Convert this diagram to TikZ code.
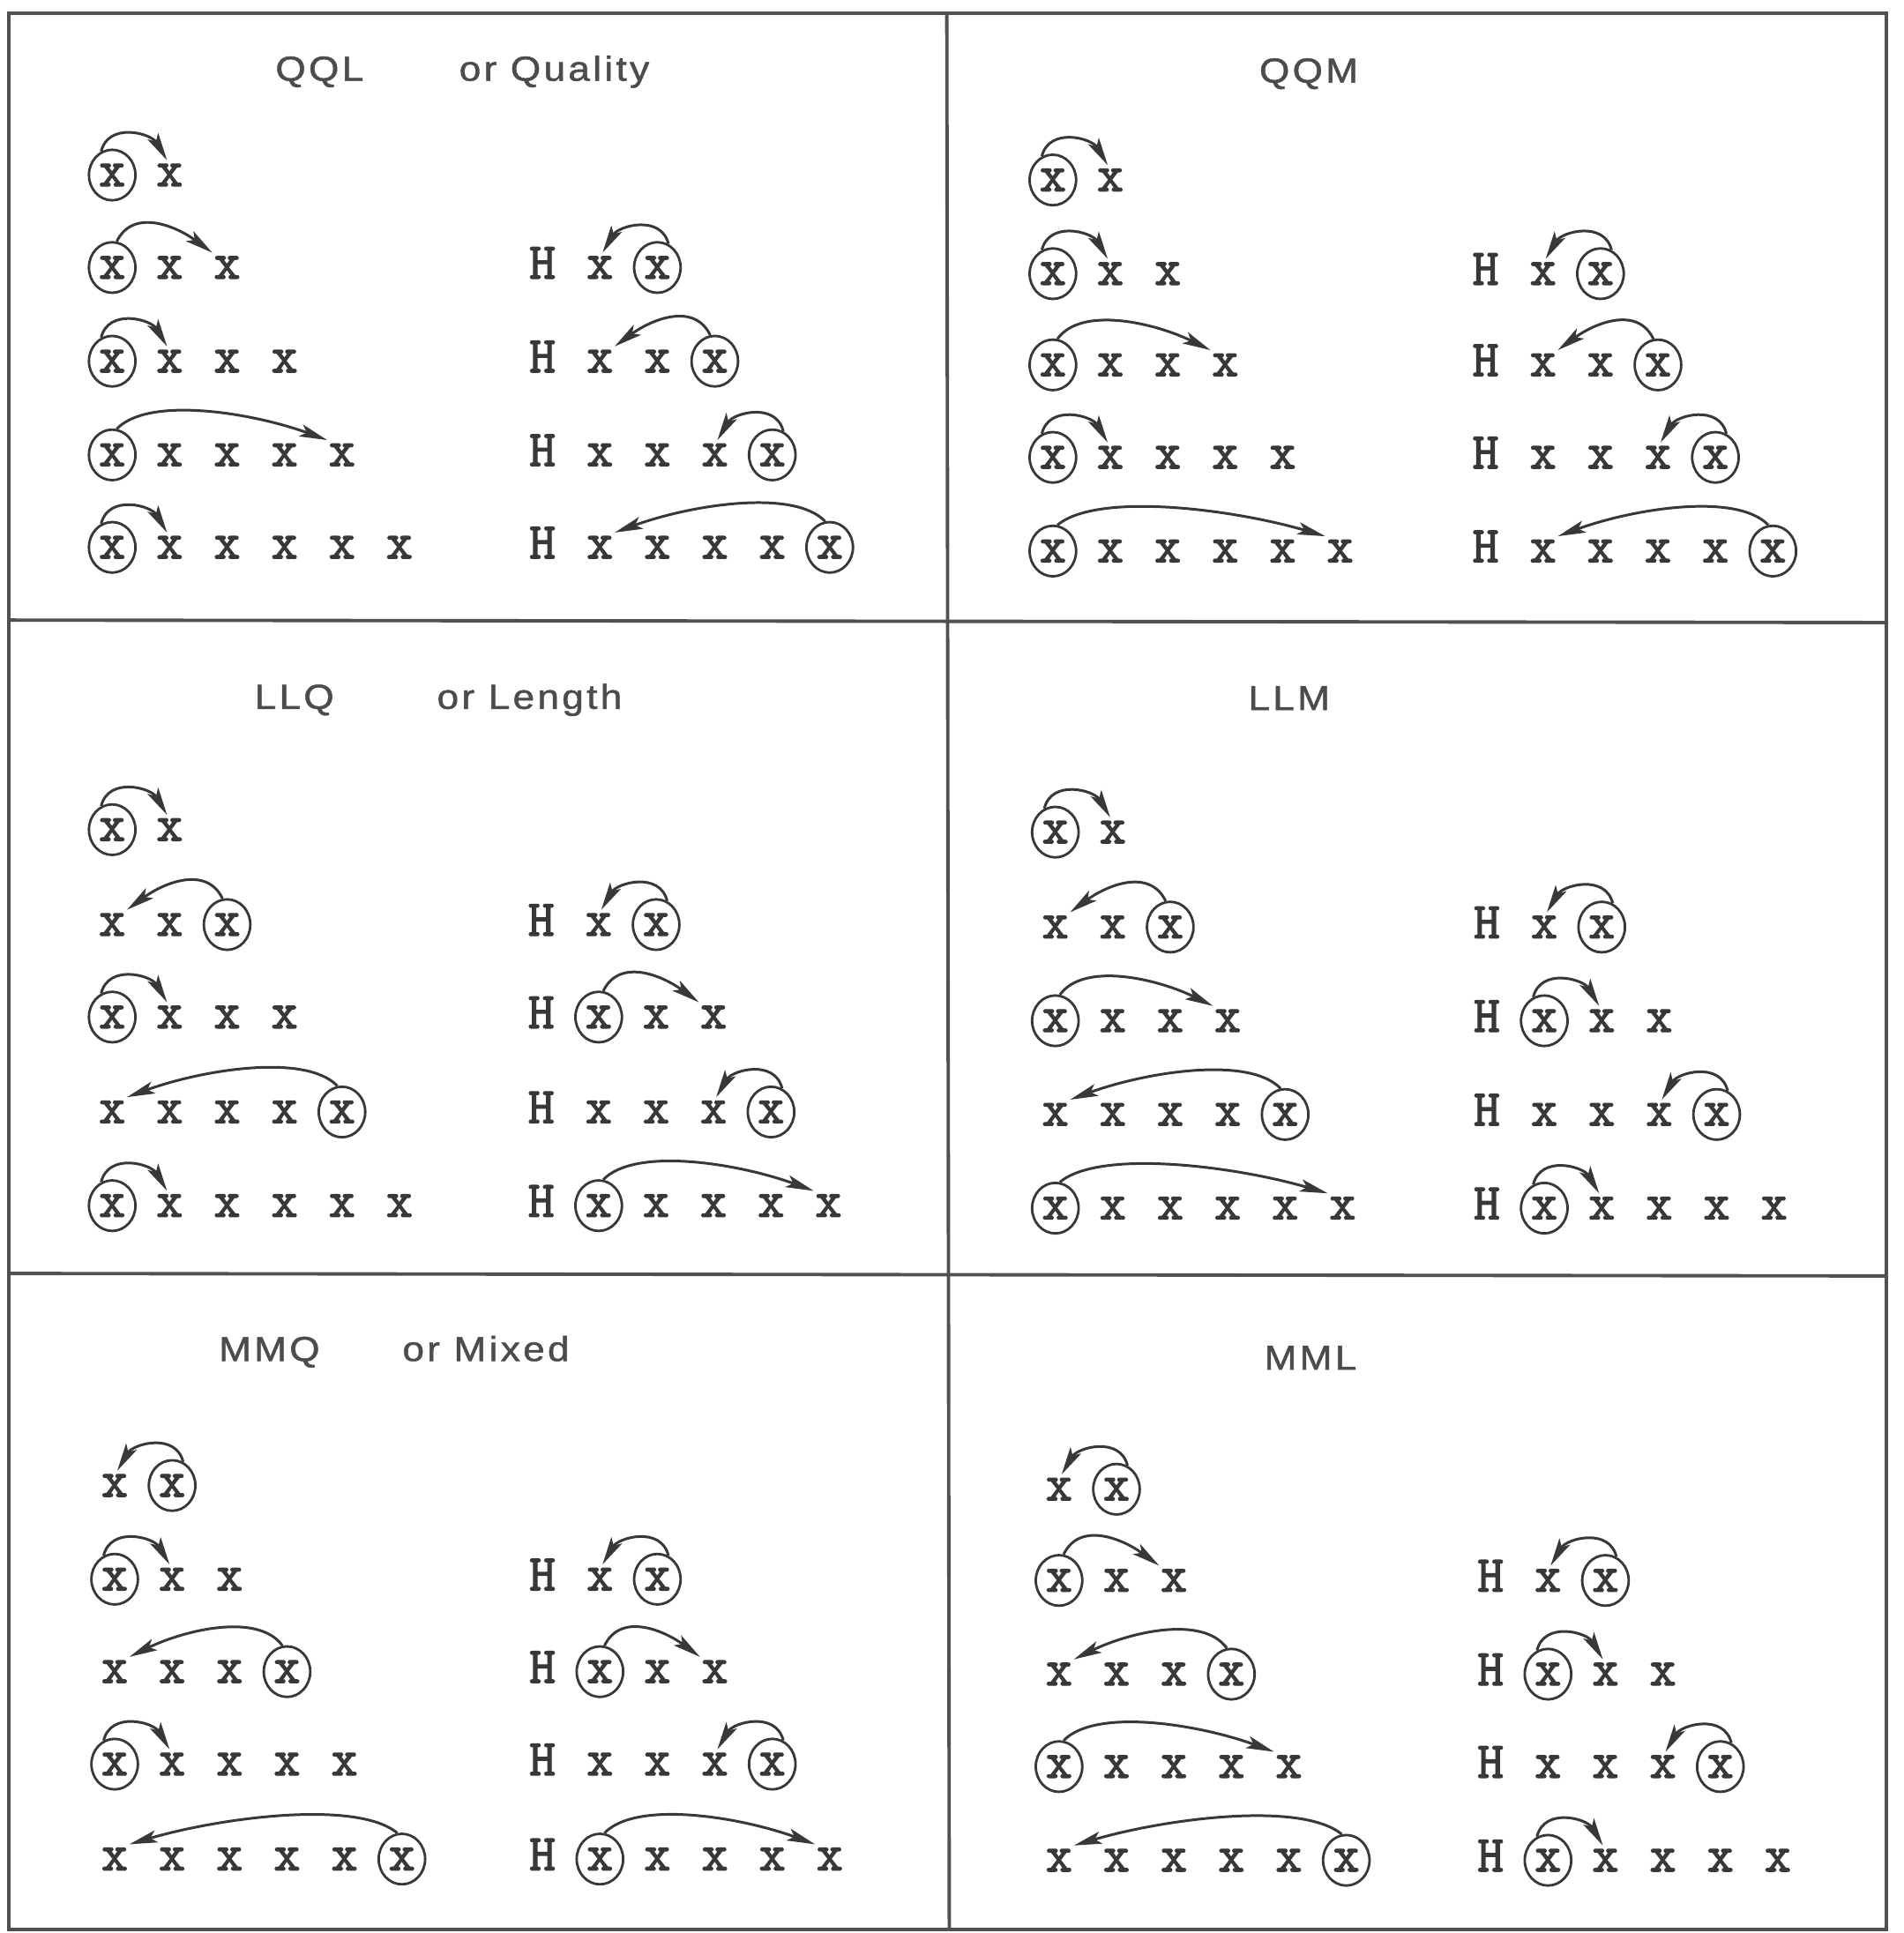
\documentclass[tikz,border=0pt]{standalone}
\usepackage{fontspec}
\usetikzlibrary{arrows.meta,shapes.geometric}
\newfontfamily\monofont[FakeBold=2.2]{Latin Modern Mono}
\newfontfamily\titlefont[FakeStretch=1.12,LetterSpace=8.5,FakeBold=1.3]{Liberation Sans}
\definecolor{ink}{HTML}{383838}
\definecolor{ttl}{HTML}{4C4C4C}
\definecolor{frm}{HTML}{505050}
\tikzset{
  glyph/.style={inner sep=1pt, anchor=base, text=ink, font=\monofont\fontsize{16.6}{20}\selectfont},
  gx/.style={glyph, node contents={x}},
  gH/.style={glyph, node contents={H}},
  go/.style={glyph, draw=ink, line width=0.8pt, ellipse, inner sep=0pt,
             minimum width=15pt, minimum height=16.3pt, node contents={\makebox[0pt]{x}}},
  arcst/.style={draw=ink, line width=0.85pt, -{Stealth[length=9pt,width=4pt,inset=2pt]}},
  ttlst/.style={anchor=base west, inner sep=0pt, text=ttl, font=\titlefont\fontsize{11.2}{13}\selectfont},
  frame/.style={draw=frm, line width=1.1pt}
}
% row of glyphs: #1 prefix, #2 x of first glyph, #3 row centre (down), #4 list of o/x/H
\newcommand\glrow[4]{\foreach \t [count=\i from 0] in {#4}{%
  \edef\tmprow{\noexpand\node (#1n\i) at ({#2+46.6*\i},{-(#3)-9}) [g\t];}\tmprow}}
\newcommand\rarc[3]{\ifnum#3=1
  \draw[arcst] (#1.115) .. controls +(6,24) and +(-13,22) .. (#2.100);
  \else
  \draw[arcst] (#1.80) .. controls +({6.5*#3},27) and +({-15*#3},22) .. (#2.135);
  \fi}
\newcommand\larc[3]{\ifnum#3=1
  \draw[arcst] (#1.65) .. controls +(-6,24) and +(13,22) .. (#2.80);
  \else
  \draw[arcst] (#1.100) .. controls +({-6.5*#3},27) and +({15*#3},22) .. (#2.45);
  \fi}
\begin{document}
\begin{tikzpicture}[x=0.013983cm, y=0.013983cm]
\useasboundingbox (0,0) rectangle (1544,-1568);
\fill[white] (0,0) rectangle (1544,-1568);
% frame
\draw[frame] (7,-11) rectangle (1530,-1565);
\draw[frame] (768,-11) -- (770,-1565);
\draw[frame] (7,-503) -- (1530,-505);
\draw[frame] (7,-1033) -- (1530,-1035);
% titles
\node[ttlst] (t1a) at (223,-65.5) {QQL};
\node[ttlst] (t1b) at (372,-65.5) {or Quality};
\node[ttlst] (t2a) at (1021,-67) {QQM};
\node[ttlst] (t3a) at (206,-575) {LLQ};
\node[ttlst] (t3b) at (354,-575) {or Length};
\node[ttlst] (t4a) at (1012,-576) {LLM};
\node[ttlst] (t5a) at (177,-1104) {MMQ};
\node[ttlst] (t5b) at (326,-1104) {or Mixed};
\node[ttlst] (t6a) at (1025,-1111) {MML};
% ---------- panel 1 : QQL ----------
\glrow{pal1}{91}{142}{o,x} \rarc{pal1n0}{pal1n1}{1}
\glrow{pal2}{91}{217}{o,x,x} \rarc{pal2n0}{pal2n2}{2}
\glrow{pal3}{91}{293}{o,x,x,x} \rarc{pal3n0}{pal3n1}{1}
\glrow{pal4}{91}{369}{o,x,x,x,x} \rarc{pal4n0}{pal4n4}{4}
\glrow{pal5}{91}{444}{o,x,x,x,x,x} \rarc{pal5n0}{pal5n1}{1}
\glrow{par2}{440}{217}{H,x,o} \larc{par2n2}{par2n1}{1}
\glrow{par3}{440}{293}{H,x,x,o} \larc{par3n3}{par3n1}{2}
\glrow{par4}{440}{369}{H,x,x,x,o} \larc{par4n4}{par4n3}{1}
\glrow{par5}{440}{444}{H,x,x,x,x,o} \larc{par5n5}{par5n1}{4}
% ---------- panel 2 : QQM ----------
\glrow{pbl1}{854}{146}{o,x} \rarc{pbl1n0}{pbl1n1}{1}
\glrow{pbl2}{854}{222}{o,x,x} \rarc{pbl2n0}{pbl2n1}{1}
\glrow{pbl3}{854}{296}{o,x,x,x} \rarc{pbl3n0}{pbl3n3}{3}
\glrow{pbl4}{854}{371}{o,x,x,x,x} \rarc{pbl4n0}{pbl4n1}{1}
\glrow{pbl5}{854}{447}{o,x,x,x,x,x} \rarc{pbl5n0}{pbl5n5}{5}
\glrow{pbr2}{1205}{222}{H,x,o} \larc{pbr2n2}{pbr2n1}{1}
\glrow{pbr3}{1205}{296}{H,x,x,o} \larc{pbr3n3}{pbr3n1}{2}
\glrow{pbr4}{1205}{371}{H,x,x,x,o} \larc{pbr4n4}{pbr4n3}{1}
\glrow{pbr5}{1205}{447}{H,x,x,x,x,o} \larc{pbr5n5}{pbr5n1}{4}
% ---------- panel 3 : LLQ ----------
\glrow{pcl1}{91}{673}{o,x} \rarc{pcl1n0}{pcl1n1}{1}
\glrow{pcl2}{91}{750}{x,x,o} \larc{pcl2n2}{pcl2n0}{2}
\glrow{pcl3}{91}{825}{o,x,x,x} \rarc{pcl3n0}{pcl3n1}{1}
\glrow{pcl4}{91}{902}{x,x,x,x,o} \larc{pcl4n4}{pcl4n0}{4}
\glrow{pcl5}{91}{978}{o,x,x,x,x,x} \rarc{pcl5n0}{pcl5n1}{1}
\glrow{pcr2}{439}{750}{H,x,o} \larc{pcr2n2}{pcr2n1}{1}
\glrow{pcr3}{439}{825}{H,o,x,x} \rarc{pcr3n1}{pcr3n3}{2}
\glrow{pcr4}{439}{902}{H,x,x,x,o} \larc{pcr4n4}{pcr4n3}{1}
\glrow{pcr5}{439}{978}{H,o,x,x,x,x} \rarc{pcr5n1}{pcr5n5}{4}
% ---------- panel 4 : LLM ----------
\glrow{pdl1}{856}{675}{o,x} \rarc{pdl1n0}{pdl1n1}{1}
\glrow{pdl2}{856}{752}{x,x,o} \larc{pdl2n2}{pdl2n0}{2}
\glrow{pdl3}{856}{828}{o,x,x,x} \rarc{pdl3n0}{pdl3n3}{3}
\glrow{pdl4}{856}{904}{x,x,x,x,o} \larc{pdl4n4}{pdl4n0}{4}
\glrow{pdl5}{856}{980}{o,x,x,x,x,x} \rarc{pdl5n0}{pdl5n5}{5}
\glrow{pdr2}{1206}{752}{H,x,o} \larc{pdr2n2}{pdr2n1}{1}
\glrow{pdr3}{1206}{828}{H,o,x,x} \rarc{pdr3n1}{pdr3n2}{1}
\glrow{pdr4}{1206}{904}{H,x,x,x,o} \larc{pdr4n4}{pdr4n3}{1}
\glrow{pdr5}{1206}{980}{H,o,x,x,x,x} \rarc{pdr5n1}{pdr5n2}{1}
% ---------- panel 5 : MMQ ----------
\glrow{pel1}{93}{1205}{x,o} \larc{pel1n1}{pel1n0}{1}
\glrow{pel2}{93}{1281}{o,x,x} \rarc{pel2n0}{pel2n1}{1}
\glrow{pel3}{93}{1356}{x,x,x,o} \larc{pel3n3}{pel3n0}{3}
\glrow{pel4}{93}{1431}{o,x,x,x,x} \rarc{pel4n0}{pel4n1}{1}
\glrow{pel5}{93}{1508}{x,x,x,x,x,o} \larc{pel5n5}{pel5n0}{5}
\glrow{per2}{440}{1281}{H,x,o} \larc{per2n2}{per2n1}{1}
\glrow{per3}{440}{1356}{H,o,x,x} \rarc{per3n1}{per3n3}{2}
\glrow{per4}{440}{1431}{H,x,x,x,o} \larc{per4n4}{per4n3}{1}
\glrow{per5}{440}{1508}{H,o,x,x,x,x} \rarc{per5n1}{per5n5}{4}
% ---------- panel 6 : MML ----------
\glrow{pfl1}{859}{1208}{x,o} \larc{pfl1n1}{pfl1n0}{1}
\glrow{pfl2}{859}{1282}{o,x,x} \rarc{pfl2n0}{pfl2n2}{2}
\glrow{pfl3}{859}{1358}{x,x,x,o} \larc{pfl3n3}{pfl3n0}{3}
\glrow{pfl4}{859}{1433}{o,x,x,x,x} \rarc{pfl4n0}{pfl4n4}{4}
\glrow{pfl5}{859}{1509}{x,x,x,x,x,o} \larc{pfl5n5}{pfl5n0}{5}
\glrow{pfr2}{1209}{1282}{H,x,o} \larc{pfr2n2}{pfr2n1}{1}
\glrow{pfr3}{1209}{1358}{H,o,x,x} \rarc{pfr3n1}{pfr3n2}{1}
\glrow{pfr4}{1209}{1433}{H,x,x,x,o} \larc{pfr4n4}{pfr4n3}{1}
\glrow{pfr5}{1209}{1509}{H,o,x,x,x,x} \rarc{pfr5n1}{pfr5n2}{1}
\end{tikzpicture}
\end{document}
